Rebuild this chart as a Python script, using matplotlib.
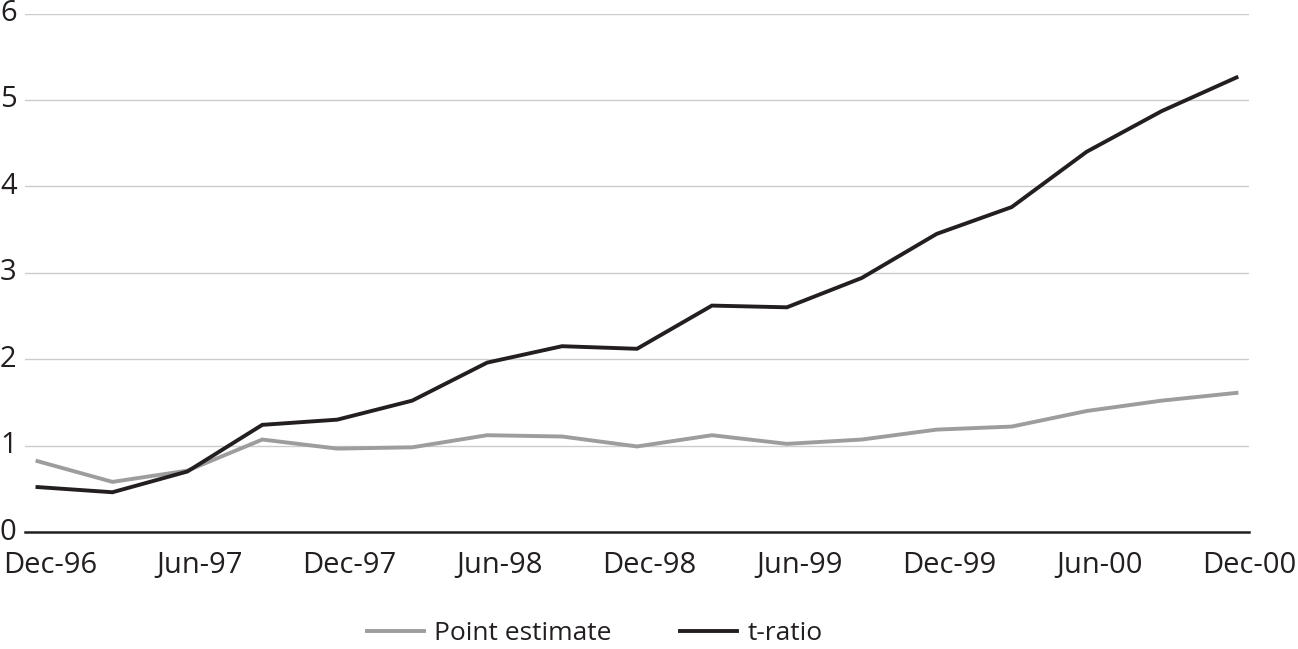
#!/usr/bin/env python3
"""Point estimate and t-ratio, quarterly Dec-96 to Dec-00."""

import matplotlib
matplotlib.use("Agg")
import matplotlib.pyplot as plt
import numpy as np

# quarterly observations, Dec-96 .. Dec-00
quarters = ["Dec-96", "Mar-97", "Jun-97", "Sep-97", "Dec-97", "Mar-98", "Jun-98",
            "Sep-98", "Dec-98", "Mar-99", "Jun-99", "Sep-99", "Dec-99", "Mar-00",
            "Jun-00", "Sep-00", "Dec-00"]
point_estimate = [0.82, 0.58, 0.71, 1.07, 0.965, 0.98, 1.12, 1.105, 0.99, 1.12,
                  1.02, 1.07, 1.185, 1.22, 1.40, 1.52, 1.61]
t_ratio = [0.52, 0.46, 0.70, 1.24, 1.30, 1.52, 1.96, 2.15, 2.12, 2.62,
           2.60, 2.94, 3.45, 3.76, 4.40, 4.87, 5.26]
tick_labels = ["Dec-96", "Jun-97", "Dec-97", "Jun-98", "Dec-98", "Jun-99",
               "Dec-99", "Jun-00", "Dec-00"]
y_ticks = [0, 1, 2, 3, 4, 5, 6]

plt.rcParams["font.family"] = ["Open Sans", "DejaVu Sans"]

TEXT = "#231f20"
GREY = "#9d9d9f"

# months since Dec-96
months = np.arange(len(quarters)) * 3
label_pos = np.arange(len(tick_labels)) * 6 + 0.5

fig = plt.figure(figsize=(12.98, 6.49), dpi=100)
ax = fig.add_axes([25 / 1298, 117 / 649, 1224 / 1298, 518.5 / 649])

ax.plot(months, point_estimate, color=GREY, lw=2.8, label="Point estimate",
        solid_joinstyle="miter")
ax.plot(months, t_ratio, color=TEXT, lw=2.8, label="t-ratio",
        solid_joinstyle="miter")

ax.set_xlim(-0.5, 48.5)
ax.set_ylim(0, 6)
ax.set_yticks(y_ticks)
ax.set_yticklabels([str(v) for v in y_ticks])
ax.set_xticks(label_pos)
ax.set_xticklabels(tick_labels)

for v in y_ticks[1:]:
    ax.axhline(v, color="#cccccc", lw=1.0, zorder=0)
ax.axhline(0, color=TEXT, lw=1.8, zorder=1, clip_on=False)

for s in ax.spines.values():
    s.set_visible(False)
ax.tick_params(axis="both", length=0, labelsize=21, colors=TEXT)
ax.tick_params(axis="y", pad=6)
ax.tick_params(axis="x", pad=14)
for lab in ax.get_yticklabels():
    lab.set_verticalalignment("center")

fig.legend(loc="center", bbox_to_anchor=(0.4584, 0.024), ncol=2, frameon=False,
           fontsize=19, handlelength=2.15, handletextpad=0.4, columnspacing=2.6,
           labelcolor=TEXT, borderpad=0.2)

fig.savefig("out.png", dpi=100)
